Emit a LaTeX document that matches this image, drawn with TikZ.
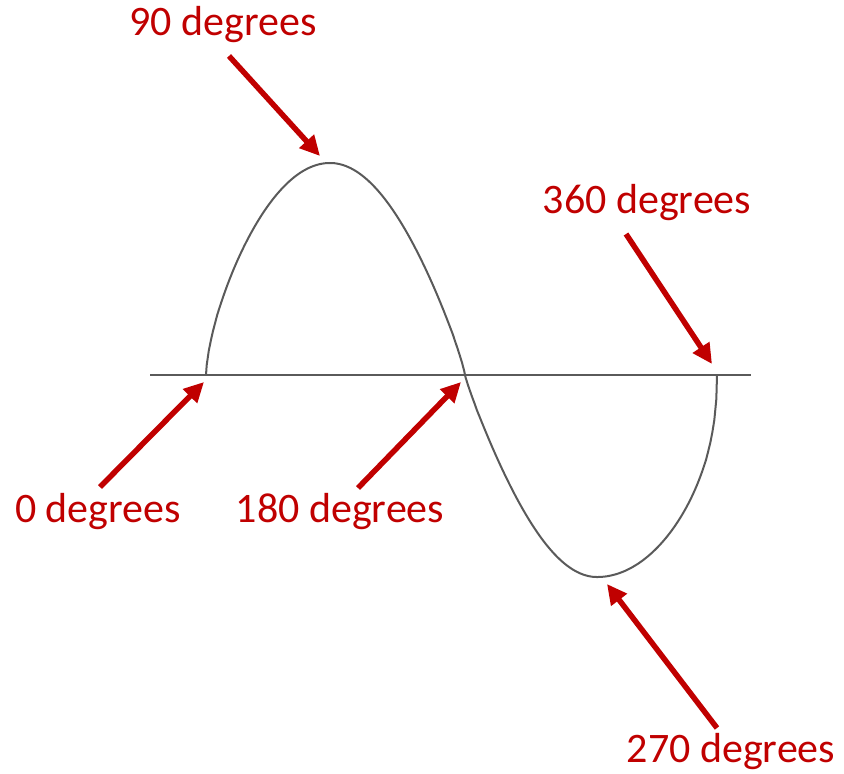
\documentclass[tikz,border=0pt]{standalone}
\usepackage{fontspec}
\setmainfont{Carlito}
\usetikzlibrary{arrows.meta}
\definecolor{lblred}{HTML}{C00000}
\definecolor{wavegray}{HTML}{5A5A5A}
\begin{document}
\begin{tikzpicture}[x=1pt,y=-1pt,
  lbl/.style={text=lblred,font=\fontsize{42}{50}\selectfont,inner sep=0pt,anchor=center},
  pointer/.style={draw=lblred,line width=5.5pt,-{Triangle[length=20pt,width=19pt]}},
  axisline/.style={draw=wavegray,line width=2pt},
  wave/.style={draw=wavegray,line width=2pt,line join=round}]
\useasboundingbox (0,0) rectangle (844,774);
% axis
\coordinate (axl) at (150,375);
\coordinate (axr) at (751,375);
\draw[axisline] (axl) -- (axr);
% wave
\coordinate (z0) at (206,375);
\coordinate (z1) at (465,375);
\coordinate (z2) at (717,375);
\draw[wave] (z0)
  -- plot[domain=0.5:90,samples=60,variable=\t] ({206+\t/90*124},{375-212*(sin(\t))^0.65})
  -- plot[domain=90:179.5,samples=60,variable=\t] ({330+(\t-90)/90*135},{375-212*(sin(\t))^0.85})
  -- (z1)
  -- plot[domain=180.5:270,samples=60,variable=\t] ({465+(\t-180)/90*132},{375+202*(-sin(\t))^0.9})
  -- plot[domain=270:359.5,samples=60,variable=\t] ({597+(\t-270)/90*120},{375+202*(-sin(\t))^0.45})
  -- (z2);
% labels
\node[lbl] (l90) at (223,25) {90 degrees};
\node[lbl] (l360) at (647,203) {360 degrees};
\node[lbl] (l0) at (98,512) {0 degrees};
\node[lbl] (l180) at (340,512) {180 degrees};
\node[lbl] (l270) at (731,752) {270 degrees};
% arrow ends
\coordinate (s90) at (229,56);   \coordinate (e90) at (320,156);
\coordinate (s360) at (626,234); \coordinate (e360) at (712,364);
\coordinate (s0) at (100,487);   \coordinate (e0) at (204,382);
\coordinate (s180) at (358,488); \coordinate (e180) at (461,382);
\coordinate (s270) at (717,728); \coordinate (e270) at (607,584);
\draw[pointer] (s90) -- (e90);
\draw[pointer] (s360) -- (e360);
\draw[pointer] (s0) -- (e0);
\draw[pointer] (s180) -- (e180);
\draw[pointer] (s270) -- (e270);
\end{tikzpicture}
\end{document}
